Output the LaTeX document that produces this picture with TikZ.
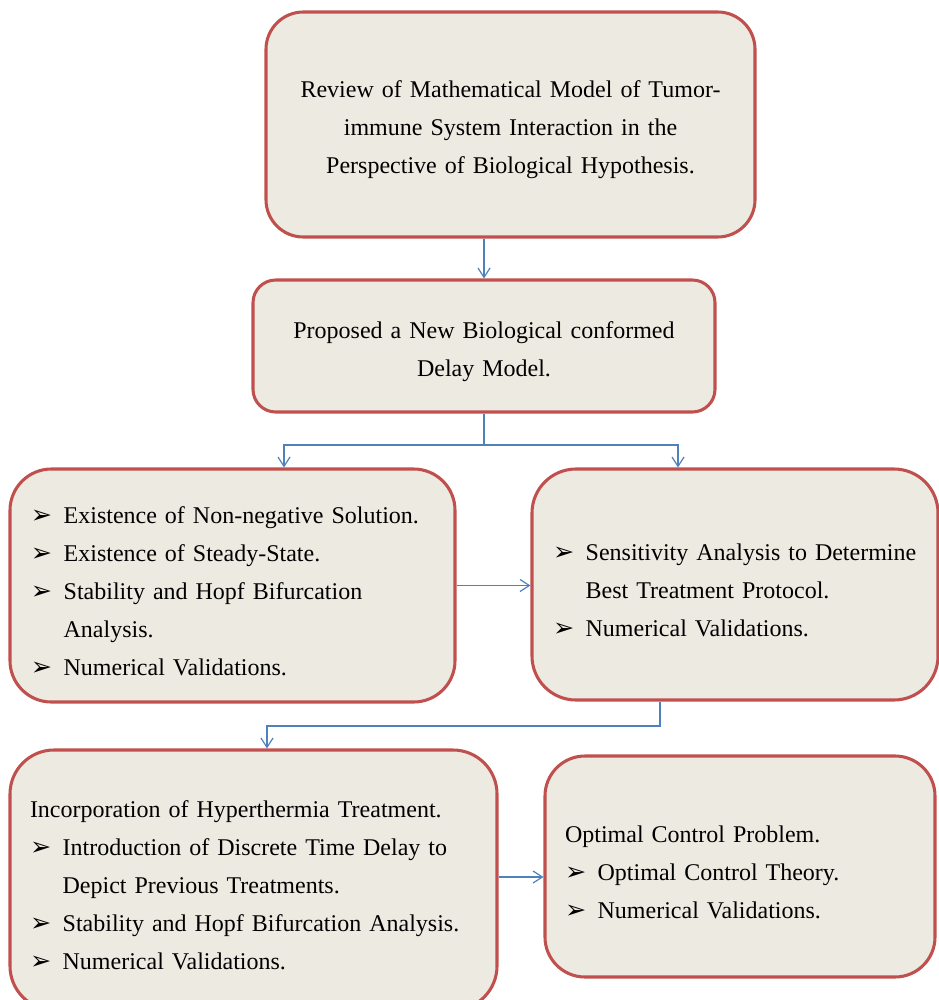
\documentclass[tikz,border=0pt]{standalone}
\usepackage{fontspec}
\setmainfont{Liberation Serif}
\newfontfamily\tickfont{DejaVu Sans}
\usetikzlibrary{arrows.meta,calc}

\definecolor{boxfill}{RGB}{237,235,225}
\definecolor{boxline}{RGB}{192,80,77}
\definecolor{linkblue}{RGB}{79,129,189}

\newdimen\px \px=0.75pt
\newcommand{\tick}{\makebox[24.5pt][l]{\tickfont\fontsize{19}{19}\selectfont ➢}}
\newcommand{\carry}{\hspace*{24.5pt}}

\tikzset{
  stage/.style={draw=boxline, fill=boxfill, line width=2.3pt, inner sep=0pt,
    font=\fontsize{18}{28.5}\selectfont, execute at begin node={\rule{0pt}{21pt}}},
  link/.style={draw=linkblue, line width=0.9pt, -{Straight Barb[length=7pt,width=9pt]}},
}

\begin{document}
\begin{tikzpicture}[x=0.75pt,y=0.75pt,yscale=-1,xscale=1]
\useasboundingbox (0,0) rectangle (939,1000);
\clip (0,0) rectangle (939,1000);

%Shape: Rounded Rect [review]
\node[stage, rounded corners=28pt, minimum width=489\px, minimum height=225\px,
  text width=440\px, align=center] (rev) at (510.5,124.5)
  {Review of Mathematical Model of Tumor-\\immune System Interaction in the\\Perspective of Biological Hypothesis.};
%Shape: Rounded Rect [proposed model]
\node[stage, rounded corners=17pt, minimum width=462\px, minimum height=132\px,
  text width=420\px, align=center] (prop) at (484,346)
  {Proposed a New Biological conformed\\Delay Model.};
%Shape: Rounded Rect [existence]
\node[stage, rounded corners=31pt, minimum width=445\px, minimum height=233\px,
  text width=403\px, align=left] (exist) at (232.5,585.5)
  {\tick Existence of Non-negative Solution.\\
   \tick Existence of Steady-State.\\
   \tick Stability and Hopf Bifurcation\\
   \carry Analysis.\\
   \tick Numerical Validations.};
%Shape: Rounded Rect [sensitivity]
\node[stage, rounded corners=33pt, minimum width=406\px, minimum height=231\px,
  text width=364\px, align=left] (sens) at (735,584.5)
  {\tick Sensitivity Analysis to Determine\\
   \carry Best Treatment Protocol.\\
   \tick Numerical Validations.};
%Shape: Rounded Rect [hyperthermia]
\node[stage, rounded corners=33pt, minimum width=487\px, minimum height=260\px,
  text width=447\px, align=left] (hyper) at (253.5,880)
  {Incorporation of Hyperthermia Treatment.\\
   \tick Introduction of Discrete Time Delay to\\
   \carry Depict Previous Treatments.\\
   \tick Stability and Hopf Bifurcation Analysis.\\
   \tick Numerical Validations.};
%Shape: Rounded Rect [optimal control]
\node[stage, rounded corners=30pt, minimum width=390\px, minimum height=221\px,
  text width=350\px, align=left] (optc) at (740,866.5)
  {Optimal Control Problem.\\
   \tick Optimal Control Theory.\\
   \tick Numerical Validations.};

%Connectors
\coordinate (fork) at (484,445);
\coordinate (bend) at (660,726);
\coordinate (tie) at ($(hyper.east)+(0,-3)$);
\draw[link] (rev.south -| prop.north) -- (prop.north);
\draw[link] (prop.south) -- (fork) -| ($(exist.north)+(51.5,0)$);
\draw[link] (fork) -| ($(sens.north)+(-57,0)$);
\draw[link] (exist.east) -- (exist.east -| sens.west);
\draw[link] (sens.south -| bend) -- (bend) -| ($(hyper.north)+(13.5,0)$);
\draw[link] (tie) -- (tie -| optc.west);
\end{tikzpicture}
\end{document}
